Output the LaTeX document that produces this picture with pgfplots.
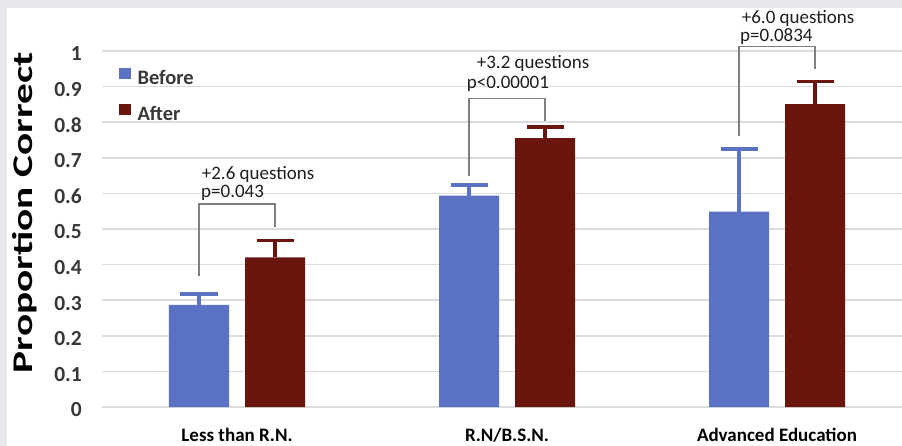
\documentclass[border=0pt]{standalone}
\usepackage{fontspec}
\setmainfont{Carlito}
\usepackage{graphicx}
\usepackage{pgfplots}
\pgfplotsset{compat=1.18}

\definecolor{beforeblue}{HTML}{5B72C4}
\definecolor{afterred}{HTML}{6B150F}
\definecolor{framegray}{HTML}{E6E8EB}
\definecolor{gridgray}{HTML}{DCDCDC}
\definecolor{bracketgray}{HTML}{7F7F7F}
\definecolor{ticktext}{HTML}{383838}
\definecolor{notetext}{HTML}{1E1E1E}

\begin{document}
\begin{tikzpicture}
% canvas with a light frame along the top and left edges
\fill[framegray] (0bp,0bp) rectangle (902bp,446bp);
\fill[white] (7bp,0bp) rectangle (902bp,438bp);
\path[use as bounding box] (0bp,0bp) rectangle (902bp,446bp);

\begin{axis}[
  at={(102bp,39bp)}, anchor=south west,
  scale only axis, width=800bp, height=356bp,
  xmin=-0.5, xmax=2.463, ymin=0, ymax=1,
  clip=false,
  axis line style={draw=none},
  major tick length=0pt,
  ytick={0,0.1,0.2,0.3,0.4,0.5,0.6,0.7,0.8,0.9,1},
  ymajorgrids,
  grid style={gridgray, line width=1.5bp},
  xtick={0,1,2},
  xticklabels={Less than R.N., R.N/B.S.N., Advanced Education},
  /pgf/number format/assume math mode=true,
  yticklabel style={font=\fontsize{21.5bp}{24bp}\selectfont\bfseries, text=ticktext,
    inner sep=0pt, anchor=east, xshift=-20bp, yshift=-3bp},
  xticklabel style={font=\fontsize{19bp}{22bp}\selectfont\bfseries, text=black,
    inner sep=0pt, anchor=north, yshift=-21bp},
  ylabel={\scalebox{1.45}[1]{Proportion Correct}},
  ylabel style={font=\fontsize{28.5bp}{32bp}\selectfont\bfseries, text=black,
    at={(axis description cs:-0.0963,0.546)}, anchor=center},
  ybar=16bp, bar width=60bp,
  legend image code/.code={\fill[#1] (0bp,-1bp) rectangle (11.5bp,10.5bp);},
  legend cell align=left,
  legend style={at={(rel axis cs:0.0213,0.953)}, anchor=north west,
    draw=none, fill=none, inner sep=0pt, outer sep=0pt,
    font=\fontsize{20.5bp}{24bp}\selectfont\bfseries, text=ticktext,
    row sep=17.8bp, column sep=7bp,
    nodes={inner sep=0pt}},
]
\addplot[fill=beforeblue, draw=none,
  error bars/.cd, y dir=plus, y explicit,
  error bar style={line width=3.5bp, beforeblue},
  error mark options={rotate=90, line width=3.5bp, beforeblue, mark size=18.5bp}]
  coordinates {(0,0.287) +- (0,0.031) (1,0.594) +- (0,0.030) (2,0.549) +- (0,0.176)};
\addlegendentry{Before}
\addplot[fill=afterred, draw=none,
  error bars/.cd, y dir=plus, y explicit,
  error bar style={line width=3.5bp, afterred},
  error mark options={rotate=90, line width=3.5bp, afterred, mark size=18.5bp}]
  coordinates {(0,0.420) +- (0,0.047) (1,0.755) +- (0,0.032) (2,0.851) +- (0,0.063)};
\addlegendentry{After}

% significance brackets joining the two bars of each group
\draw[bracketgray, line width=1.5bp]
  ([xshift=-38bp]axis cs:0,0.368) |- ([xshift=38bp]axis cs:0,0.570) -- ([xshift=38bp]axis cs:0,0.505);
\draw[bracketgray, line width=1.5bp]
  ([xshift=-38bp]axis cs:1,0.649) |- ([xshift=38bp]axis cs:1,0.867) -- ([xshift=38bp]axis cs:1,0.804);
\draw[bracketgray, line width=1.5bp]
  ([xshift=-38bp]axis cs:2,0.761) |- ([xshift=38bp]axis cs:2,1.012) -- ([xshift=38bp]axis cs:2,0.949);

\begin{scope}[every node/.style={inner sep=0pt, anchor=west, text=notetext,
    font=\fontsize{19bp}{22bp}\selectfont}]
  \node at ([xshift=-35.3bp]axis cs:0,0.6545) {+2.6 questions};
  \node at ([xshift=-36bp]axis cs:0,0.602) {p=0.043};
  \node at ([xshift=-30.3bp]axis cs:1,0.9654) {+3.2 questions};
  \node at ([xshift=-40.3bp]axis cs:1,0.909) {p<0.00001};
  \node at ([xshift=-35.3bp]axis cs:2,1.092) {+6.0 questions};
  \node at ([xshift=-37bp]axis cs:2,1.040) {p=0.0834};
\end{scope}
\end{axis}
\end{tikzpicture}
\end{document}
